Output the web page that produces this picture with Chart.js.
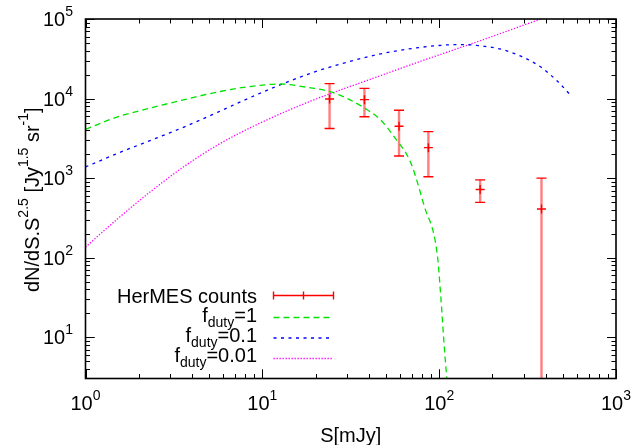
<!DOCTYPE html>
<html><head><meta charset="utf-8">
<script src="https://cdn.jsdelivr.net/npm/chart.js@4/dist/chart.umd.min.js"></script>
<style>html,body{margin:0;padding:0;background:#fff;}#wrap{width:641px;height:445px;}</style>
</head><body><div id="wrap"><canvas id="c" width="641" height="445"></canvas></div>
<script>
// ---- data ----
const hermesS  = [24.0, 37.8, 59.3, 86.9, 170.5, 379];
const hermesN  = [9900, 9700, 4500, 2420, 720, 410];
const hermesHi = [15400, 13450, 7140, 3840, 953, 1000];
const hermesLo = [4200, 5900, 1900, 1040, 497, 0.01];

const duty1S = [1, 1.52, 2.36, 3.63, 5.61, 8.67, 12.8, 16.5, 24.4, 30.3, 37.6, 46.8, 55.6, 69.0, 82.2, 97.7, 102, 106.7, 110, 115];
const duty1N = [4100, 5900, 7660, 9715, 12130, 14260, 15240, 14260, 12130, 10000, 7660, 5360, 3320, 1570, 451, 107, 33.8, 8.0, 3.4, 1.0];

const duty01S = [1, 1.52, 2.36, 3.63, 5.61, 8.67, 13.2, 19.6, 30.3, 46.8, 72.1, 111.4, 132.4, 171.8, 223.4, 289.7, 375.8, 466.7, 556];
const duty01N = [1384, 2053, 3013, 4416, 6760, 10470, 15490, 21530, 28710, 36520, 42950, 47320, 47750, 45970, 41780, 34120, 24890, 16480, 10900];

const duty001S = [1, 1.52, 2.36, 3.63, 5.61, 8.67, 13.3, 19.6, 30.3, 46.8, 72.1, 111.4, 171.8, 375.8, 501];
const duty001N = [136, 309, 692, 1413, 2630, 4365, 6761, 9661, 13800, 19500, 27540, 38460, 53700, 100000, 125900];

const xTickExps = [0, 1, 2, 3];
const yTickExps = [1, 2, 3, 4, 5];
const xMin = 1, xMax = 1000, yMin = 3.04, yMax = 1e5;

const legendMain = ['HerMES counts', 'f', 'f', 'f'];
const legendSub  = ['', 'duty', 'duty', 'duty'];
const legendTail = ['', '=1', '=0.1', '=0.01'];
const xTitle = 'S[mJy]';
const yTitleParts = [['dN/dS.S', 0], ['2.5', 1], [' [Jy', 0], ['1.5', 1], [' sr', 0], ['-1', 1], [']', 0]];

// ---- styles ----
const FONT = "'Liberation Sans', Arial, Helvetica, sans-serif";
const f = px => px + 'px ' + FONT;
const RED = '#ff0000', GREEN = 'rgb(0,225,0)', BLUE = '#0000ff', MAG = '#ff00ff';
const dash1 = [6, 4], dash01 = [3, 4.5], dash001 = [1.3, 1.7];

const pts = (xs, ys) => xs.map((v, i) => ({x: v, y: ys[i]}));

const decor = {
  id: 'decor',
  beforeDatasetsDraw(chart) {
    const {ctx, chartArea: a, scales: {x, y}} = chart;
    ctx.save();
    ctx.beginPath(); ctx.rect(a.left, a.top, a.right - a.left, a.bottom - a.top); ctx.clip();
    for (let i = 0; i < hermesS.length; i++) {
      const px = x.getPixelForValue(hermesS[i]);
      const yh = y.getPixelForValue(hermesHi[i]);
      const yl = y.getPixelForValue(hermesLo[i]);
      ctx.strokeStyle = 'rgba(255,0,0,0.5)'; ctx.lineWidth = 2.4;
      ctx.beginPath(); ctx.moveTo(px, yh); ctx.lineTo(px, yl); ctx.stroke();
      ctx.strokeStyle = RED; ctx.lineWidth = 1.4;
      ctx.beginPath();
      ctx.moveTo(px - 5, yh); ctx.lineTo(px + 5, yh);
      ctx.moveTo(px - 5, yl); ctx.lineTo(px + 5, yl);
      ctx.stroke();
    }
    ctx.restore();
  },
  afterDraw(chart) {
    const {ctx, chartArea: a, scales: {x, y}} = chart;
    ctx.save();
    // ticks
    ctx.strokeStyle = '#000'; ctx.lineWidth = 1;
    ctx.beginPath();
    for (let e = 0; e < 3; e++) for (let m = 1; m <= 10; m++) {
      const v = m * Math.pow(10, e);
      if (v < xMin || v > xMax) continue;
      const px = Math.round(x.getPixelForValue(v)) + 0.5;
      const L = (m === 1 || m === 10) ? 9 : 4.5;
      ctx.moveTo(px, a.bottom); ctx.lineTo(px, a.bottom - L);
      ctx.moveTo(px, a.top); ctx.lineTo(px, a.top + L);
    }
    for (let e = 0; e < 5; e++) for (let m = 1; m <= 10; m++) {
      const v = m * Math.pow(10, e);
      if (v < yMin || v > yMax * 1.0001) continue;
      const py = Math.round(y.getPixelForValue(v)) + 0.5;
      const L = (m === 1 || m === 10) ? 9 : 4.5;
      ctx.moveTo(a.left, py); ctx.lineTo(a.left + L, py);
      ctx.moveTo(a.right, py); ctx.lineTo(a.right - L, py);
    }
    ctx.stroke();
    // border
    ctx.lineWidth = 1.6;
    ctx.strokeRect(a.left, a.top, a.right - a.left, a.bottom - a.top);

    ctx.fillStyle = '#000';
    ctx.textBaseline = 'alphabetic';
    // x tick labels
    xTickExps.forEach(e => {
      const px = x.getPixelForValue(Math.pow(10, e));
      ctx.font = f(20); const w1 = ctx.measureText('10').width;
      ctx.font = f(14); const w2 = ctx.measureText(String(e)).width;
      const s = px - (w1 + w2) / 2;
      ctx.textAlign = 'left';
      ctx.font = f(20); ctx.fillText('10', s, 410);
      ctx.font = f(14); ctx.fillText(String(e), s + w1, 400);
    });
    // y tick labels
    yTickExps.forEach(e => {
      const py = y.getPixelForValue(Math.pow(10, e));
      ctx.font = f(14); const w2 = ctx.measureText(String(e)).width;
      ctx.font = f(20); const w1 = ctx.measureText('10').width;
      const s = 73 - w1 - w2;
      ctx.textAlign = 'left';
      ctx.font = f(20); ctx.fillText('10', s, py + 7);
      ctx.font = f(14); ctx.fillText(String(e), s + w1, py - 3);
    });
    // x title
    ctx.font = f(20); ctx.textAlign = 'center';
    ctx.fillText(xTitle, (a.left + a.right) / 2, 442);
    // y title
    ctx.save();
    ctx.translate(38.5, (a.top + a.bottom) / 2 + 1);
    ctx.rotate(-Math.PI / 2);
    ctx.textAlign = 'left';
    let tot = 0;
    yTitleParts.forEach(([t, s]) => { ctx.font = f(s ? 14 : 20); tot += ctx.measureText(t).width; });
    let xx = -tot / 2;
    yTitleParts.forEach(([t, s]) => {
      ctx.font = f(s ? 14 : 20);
      ctx.fillText(t, xx, s ? -11 : 0);
      xx += ctx.measureText(t).width;
    });
    ctx.restore();

    // legend
    const baselines = [303, 322, 342, 361.5];
    const sampleY = [295.5, 317.5, 338, 358.5];
    const right = 257, sx0 = 273.5, sx1 = 333.5;
    for (let i = 0; i < legendMain.length; i++) {
      ctx.font = f(20); const w1 = ctx.measureText(legendMain[i]).width;
      ctx.font = f(14); const w2 = ctx.measureText(legendSub[i]).width;
      ctx.font = f(20); const w3 = ctx.measureText(legendTail[i]).width;
      let s = right - w1 - w2 - w3;
      ctx.textAlign = 'left';
      ctx.font = f(20); ctx.fillText(legendMain[i], s, baselines[i]);
      ctx.font = f(14); ctx.fillText(legendSub[i], s + w1, baselines[i] + 5);
      ctx.font = f(20); ctx.fillText(legendTail[i], s + w1 + w2, baselines[i]);
    }
    // samples
    ctx.lineWidth = 1.4; ctx.strokeStyle = RED; ctx.setLineDash([]);
    ctx.beginPath();
    ctx.moveTo(sx0, sampleY[0]); ctx.lineTo(sx1, sampleY[0]);
    [sx0, (sx0 + sx1) / 2, sx1].forEach(v => { ctx.moveTo(v, sampleY[0] - 4); ctx.lineTo(v, sampleY[0] + 4); });
    ctx.stroke();
    [[GREEN, dash1, 333.5], [BLUE, dash01, 331], [MAG, dash001, 332]].forEach(([c, d, e], k) => {
      ctx.strokeStyle = c; ctx.setLineDash(d); ctx.lineWidth = 1.3;
      ctx.beginPath(); ctx.moveTo(sx0, sampleY[k + 1]); ctx.lineTo(e, sampleY[k + 1]); ctx.stroke();
    });
    ctx.restore();
  }
};

new Chart(document.getElementById('c'), {
  type: 'scatter',
  data: {
    datasets: [
      {label: 'HerMES counts', data: pts(hermesS, hermesN), showLine: false,
       pointStyle: 'cross', pointRadius: 4.5, borderColor: RED, borderWidth: 1.4, backgroundColor: RED, order: 1},
      {label: 'f_duty=1', data: pts(duty1S, duty1N), showLine: true, pointRadius: 0,
       borderColor: GREEN, borderWidth: 1.3, borderDash: dash1, cubicInterpolationMode: 'monotone', order: 0},
      {label: 'f_duty=0.1', data: pts(duty01S, duty01N), showLine: true, pointRadius: 0,
       borderColor: BLUE, borderWidth: 1.3, borderDash: dash01, cubicInterpolationMode: 'monotone', order: 0},
      {label: 'f_duty=0.01', data: pts(duty001S, duty001N), showLine: true, pointRadius: 0,
       borderColor: MAG, borderWidth: 1.3, borderDash: dash001, cubicInterpolationMode: 'monotone', order: 0}
    ]
  },
  options: {
    responsive: false, animation: false, devicePixelRatio: 1,
    layout: {padding: {left: 85.5, right: 25, top: 19, bottom: 66.5}},
    scales: {
      x: {type: 'logarithmic', min: xMin, max: xMax, display: false},
      y: {type: 'logarithmic', min: yMin, max: yMax, display: false}
    },
    plugins: {legend: {display: false}, tooltip: {enabled: false}},
    elements: {point: {hoverRadius: 0}}
  },
  plugins: [decor]
});
</script></body></html>
